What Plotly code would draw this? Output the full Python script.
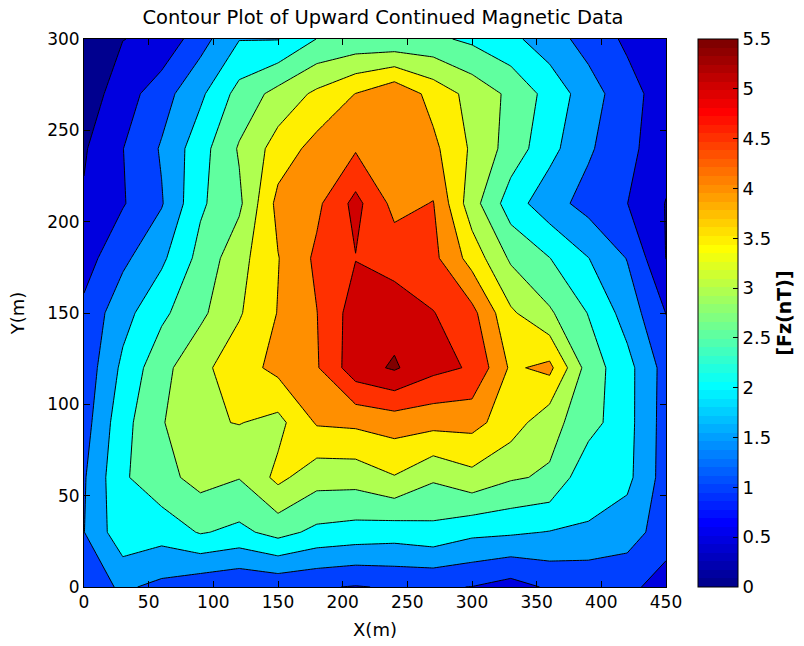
import plotly.graph_objects as go

# ---------------- data ----------------
x_m = [0, 30, 60, 90, 120, 150, 180, 210, 240, 270, 300, 330, 360, 390, 420, 450]
y_m = [0, 30, 60, 90, 120, 150, 180, 210, 240, 270, 300]

fz_y0   = [1.22, 1.58, 1.37, 1.16, 1.05, 1.12, 1.05, 0.97, 1.05, 1.05, 0.99, 0.80, 1.07, 1.05, 1.14, 0.76]
fz_y30  = [1.49, 2.34, 2.21, 2.54, 2.38, 2.67, 2.38, 2.30, 2.24, 2.35, 2.12, 2.07, 1.98, 1.97, 1.72, 1.26]
fz_y60  = [1.45, 2.43, 2.83, 3.18, 3.02, 3.63, 3.20, 3.20, 3.47, 3.07, 3.35, 3.06, 2.93, 2.12, 2.13, 1.27]
fz_y90  = [1.29, 2.33, 2.96, 3.43, 3.52, 3.35, 4.05, 4.10, 4.22, 4.16, 4.16, 3.74, 3.18, 2.70, 2.17, 1.28]
fz_y120 = [1.18, 2.11, 2.84, 3.37, 3.785, 4.14, 4.455, 5.30, 5.56, 5.14, 4.95, 3.92, 4.13, 2.77, 2.17, 1.30]
fz_y150 = [1.125, 1.82, 2.39, 2.89, 3.45, 4.02, 4.49, 5.25, 5.30, 5.02, 4.65, 3.58, 3.07, 2.48, 1.79, 0.99]
fz_y180 = [0.78, 1.39, 1.90, 2.66, 3.32, 3.98, 4.60, 4.985, 4.78, 4.63, 3.80, 2.92, 2.51, 2.01, 1.48, 0.49]
fz_y210 = [0.55, 0.96, 1.46, 2.42, 2.90, 4.15, 4.39, 5.15, 4.35, 4.52, 3.21, 2.24, 1.70, 1.32, 1.006, 0.48]
fz_y240 = [0.45, 0.99, 1.55, 2.30, 3.05, 3.72, 4.18, 4.45, 4.35, 4.12, 3.42, 2.79, 2.16, 1.57, 1.13, 0.70]
fz_y270 = [0.22, 0.76, 1.29, 1.90, 2.68, 3.17, 3.60, 4.01, 4.40, 3.82, 3.33, 2.89, 2.32, 1.73, 1.19, 0.75]
fz_y300 = [0.30, 0.49, 0.61, 1.30, 1.98, 1.98, 2.51, 2.62, 2.58, 2.60, 2.40, 2.12, 1.73, 1.30, 0.91, 0.70]

level_start = 0.0
level_end = 5.5
level_step = 0.5

x_ticks = [0, 50, 100, 150, 200, 250, 300, 350, 400, 450]
y_ticks = [0, 50, 100, 150, 200, 250, 300]
cbar_ticks = [0, 0.5, 1, 1.5, 2, 2.5, 3, 3.5, 4, 4.5, 5, 5.5]
cbar_labels = ["0", "0.5", "1", "1.5", "2", "2.5", "3", "3.5", "4", "4.5", "5", "5.5"]

title_text = "Contour Plot of Upward Continued Magnetic Data"
x_title = "X(m)"
y_title = "Y(m)"
cbar_title = "[Fz(nT)]"

fz = [fz_y0, fz_y30, fz_y60, fz_y90, fz_y120, fz_y150,
      fz_y180, fz_y210, fz_y240, fz_y270, fz_y300]


# ---------------- MATLAB jet(64) colormap ----------------
def jet_matlab(m=64):
    n = -(-m // 4)
    u = [i / n for i in range(1, n + 1)] + [1.0] * (n - 1) + [i / n for i in range(n, 0, -1)]
    g0 = -(-n // 2) - (1 if m % 4 == 1 else 0)
    r = [0.0] * m
    g = [0.0] * m
    b = [0.0] * m
    for k, val in enumerate(u):
        gi = g0 + k
        ri = gi + n
        bi = gi - n
        if 0 <= gi < m:
            g[gi] = val
        if 0 <= ri < m:
            r[ri] = val
        if 0 <= bi < m:
            b[bi] = val
    return [(r[i], g[i], b[i]) for i in range(m)]


jet = jet_matlab(64)


def rgb(c):
    return "rgb(%d,%d,%d)" % (round(c[0] * 255), round(c[1] * 255), round(c[2] * 255))


n_levels = int(round((level_end - level_start) / level_step)) + 1
band_cols = []
for k in range(n_levels):
    lev = level_start + k * level_step
    idx = int((lev - level_start) / (level_end - level_start) * 64)
    idx = min(max(idx, 0), 63)
    band_cols.append(rgb(jet[idx]))

stops = [band_cols[0]] + band_cols
nstop = len(stops)
fill_scale = []
for m, c in enumerate(stops):
    lo = max(0.0, (m - 0.5) / (nstop - 1))
    hi = min(1.0, (m + 0.5) / (nstop - 1))
    fill_scale.append([lo, c])
    fill_scale.append([hi, c])

bar_scale = []
for i, c in enumerate(jet):
    bar_scale.append([i / 64, rgb(c)])
    bar_scale.append([(i + 1) / 64, rgb(c)])

FONT = "DejaVu Sans, Liberation Sans, Arial, sans-serif"

fig = go.Figure()
fig.add_trace(go.Contour(
    x=x_m, y=y_m, z=fz,
    autocontour=False,
    contours=dict(start=level_start, end=level_end, size=level_step, coloring="fill"),
    colorscale=fill_scale,
    line=dict(color="black", width=1, smoothing=0),
    showscale=False,
    hoverinfo="skip",
))

fig.add_trace(go.Scatter(
    x=[None], y=[None], mode="markers", hoverinfo="skip", showlegend=False,
    marker=dict(
        color=[0], cmin=level_start, cmax=level_end, colorscale=bar_scale, showscale=True,
        colorbar=dict(
            x=(698 - 84) / 582, xanchor="left", xpad=0,
            y=0.5, yanchor="middle", ypad=0,
            len=1, lenmode="fraction", thickness=40, thicknessmode="pixels",
            outlinecolor="black", outlinewidth=1,
            tickmode="array", tickvals=cbar_ticks, ticktext=cbar_labels,
            ticks="inside", ticklen=5, tickcolor="black",
            tickfont=dict(family=FONT, size=18, color="black"),
            title=dict(text="<b>" + cbar_title + "</b>", side="right",
                       font=dict(family=FONT, size=19, color="black")),
        ),
    ),
))

axis_common = dict(
    showline=True, linecolor="black", linewidth=1, mirror="ticks",
    ticks="inside", ticklen=6, tickcolor="black", tickwidth=1,
    showgrid=False, zeroline=False, automargin=False,
    tickfont=dict(family=FONT, size=17, color="black"),
)

fig.update_layout(
    width=804, height=646,
    margin=dict(l=84, r=138, t=39, b=59, autoexpand=False),
    paper_bgcolor="white", plot_bgcolor="white",
    showlegend=False,
    title=dict(text=title_text, x=0.5 + 8 / 582, xref="paper", xanchor="center",
               y=1 - 17 / 646, yanchor="middle",
               font=dict(family=FONT, size=19.5, color="black")),
    xaxis=dict(range=[0, 450], tickvals=x_ticks, title=dict(text=x_title, standoff=11,
               font=dict(family=FONT, size=18, color="black")), **axis_common),
    yaxis=dict(range=[0, 300], tickvals=y_ticks, title=dict(text=y_title, standoff=17,
               font=dict(family=FONT, size=18, color="black")), **axis_common),
)

fig.write_html("out.html", config={"displayModeBar": False},
               post_script="document.body.style.margin='0px';")
